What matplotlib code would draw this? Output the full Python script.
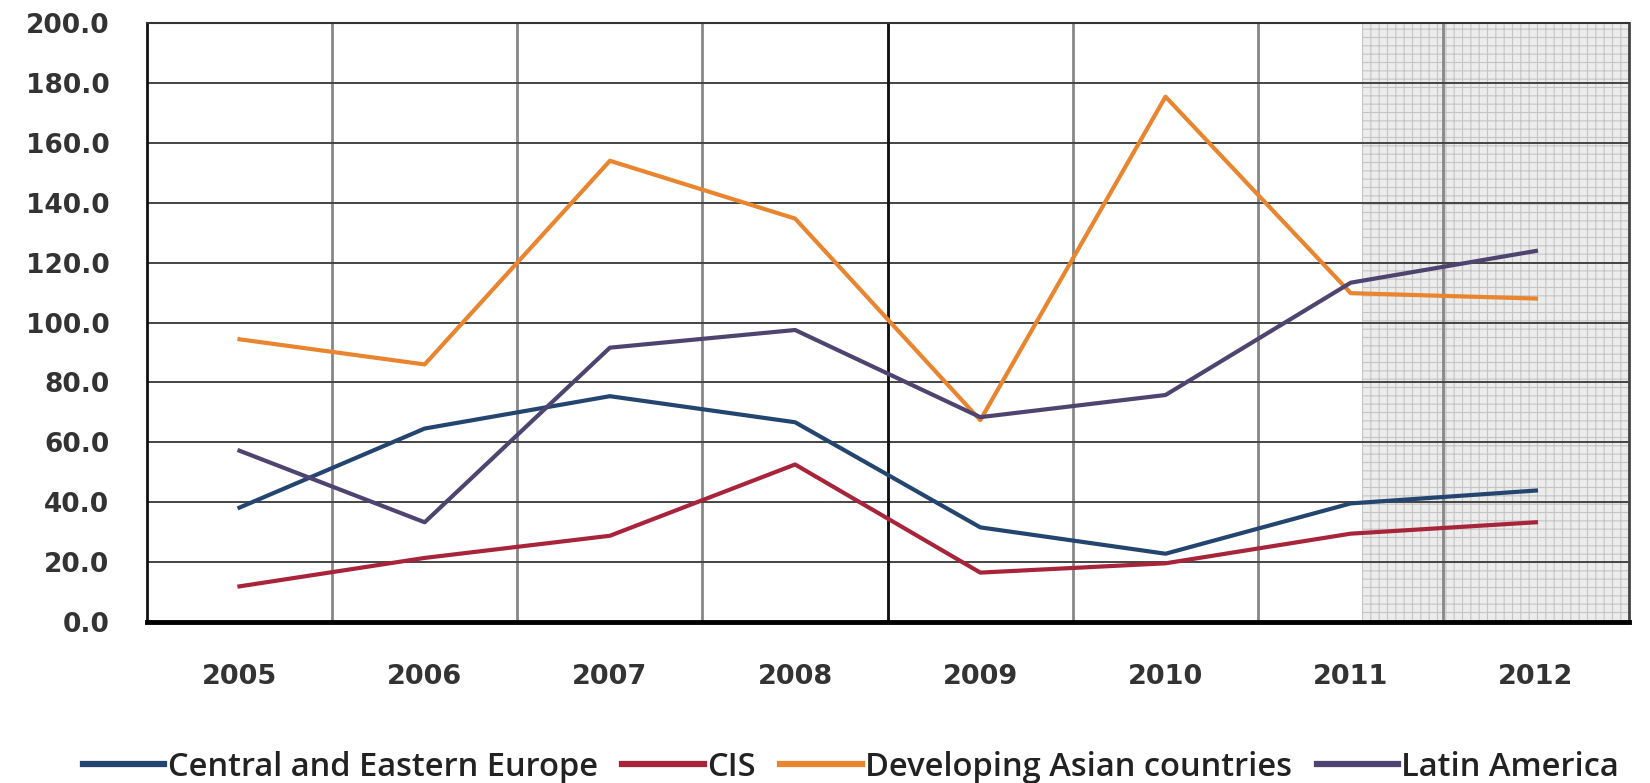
import matplotlib
matplotlib.use("Agg")
import matplotlib.pyplot as plt
import numpy as np

years = ["2005", "2006", "2007", "2008", "2009", "2010", "2011", "2012"]

central_eastern_europe = [38.2, 64.6, 75.4, 66.7, 31.6, 22.8, 39.6, 43.9]
cis = [11.9, 21.4, 28.8, 52.6, 16.5, 19.6, 29.5, 33.3]
developing_asia = [94.4, 86.0, 154.0, 134.7, 67.4, 175.4, 109.8, 108.0]
latin_america = [57.2, 33.3, 91.6, 97.5, 68.4, 75.8, 113.3, 123.9]

series = [
    ("Central and Eastern Europe", central_eastern_europe, "#24456f"),
    ("CIS", cis, "#a8243a"),
    ("Developing Asian countries", developing_asia, "#e8852e"),
    ("Latin America", latin_america, "#4e4470"),
]

plt.rcParams["hatch.linewidth"] = 0.8

fig = plt.figure(figsize=(16.5, 7.83), dpi=100)
ax = fig.add_axes([0.089, 0.2056, 0.898, 0.765])

x = np.arange(len(years))

# forecast shading
ax.axvspan(6.06, 7.5, facecolor="#ececec", edgecolor="#c4c4c4", hatch="++", linewidth=0, zorder=0)

for name, vals, color in series:
    ax.plot(x, vals, color=color, linewidth=3.0, label=name, zorder=3)

ax.set_xlim(-0.5, len(years) - 0.5)
ax.set_ylim(0, 200)
ax.set_yticks(np.arange(0, 201, 20))
ax.set_yticklabels([f"{v:.1f}" for v in np.arange(0, 201, 20)])
ax.set_xticks(x)
ax.set_xticklabels(years)
ax.set_xticks(x[:-1] + 0.5, minor=True)

ax.grid(axis="y", which="major", color="#444444", linewidth=1.4, zorder=1)
ax.grid(axis="x", which="minor", color="#888888", linewidth=2.0, zorder=1)
ax.axvline(3.5, color="#111111", linewidth=2.0, zorder=1)
ax.set_axisbelow(True)

ax.tick_params(axis="both", which="both", length=0)
ax.tick_params(axis="y", labelsize=19, labelcolor="#333333", pad=27)
ax.tick_params(axis="x", labelsize=19.5, labelcolor="#333333", pad=30)
for lab in ax.get_xticklabels() + ax.get_yticklabels():
    lab.set_fontweight("bold")

ax.spines["left"].set_color("#111111")
ax.spines["left"].set_linewidth(2.0)
ax.spines["top"].set_color("#333333")
ax.spines["top"].set_linewidth(1.5)
ax.spines["right"].set_color("#444444")
ax.spines["right"].set_linewidth(2.0)
ax.spines["bottom"].set_color("#000000")
ax.spines["bottom"].set_linewidth(3.5)

leg = fig.legend(loc="center", bbox_to_anchor=(851 / 1650, 1 - 767 / 783), ncol=4,
                 frameon=False, handlelength=2.5, handletextpad=0.1, columnspacing=0.75,
                 borderpad=0, prop={"family": "Open Sans", "size": 23.5, "weight": "semibold"})
for line in leg.get_lines():
    line.set_linewidth(4.5)
for t in leg.get_texts():
    t.set_color("#222222")

fig.savefig("out.png", dpi=100)
